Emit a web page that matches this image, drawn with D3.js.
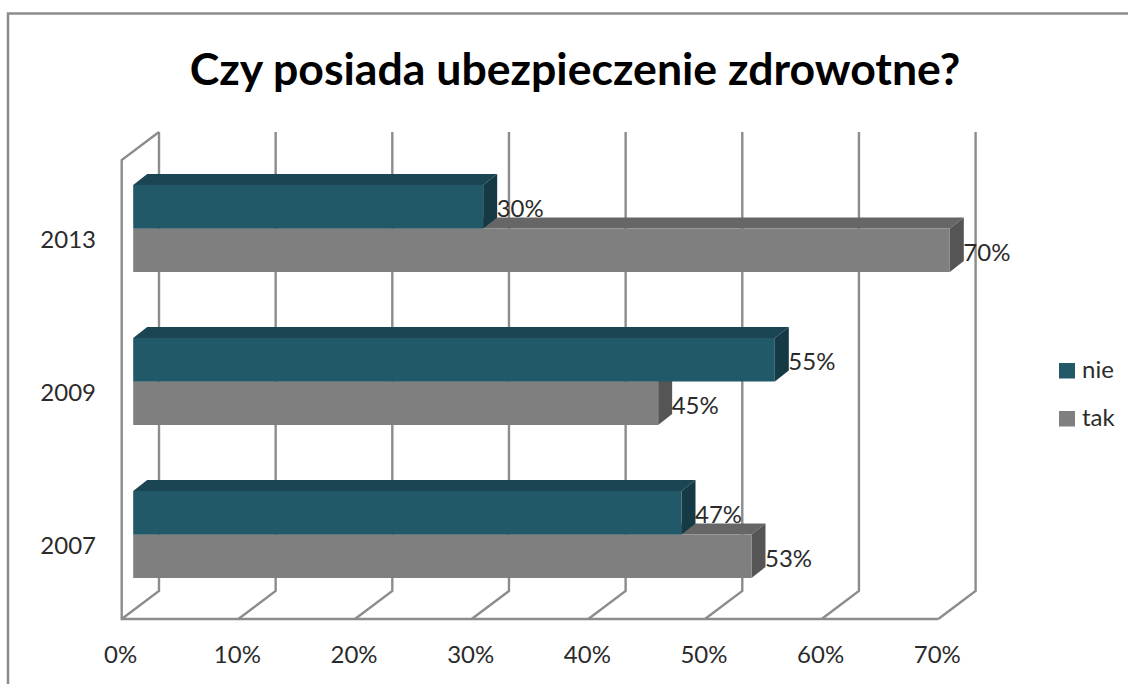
<!DOCTYPE html>
<html>
<head>
<meta charset="utf-8">
<title>Czy posiada ubezpieczenie zdrowotne?</title>
<script src="https://cdn.jsdelivr.net/npm/d3@7"></script>
<style>
  html, body { margin: 0; padding: 0; background: #fff; }
  svg { display: block; }
  text { font-family: Lato, "Noto Sans", sans-serif; fill: #2b2b2b; }
</style>
</head>
<body>
<svg id="chart" width="1128" height="684"></svg>
<script>
const titleText = 'Czy posiada ubezpieczenie zdrowotne?';
const years = ['2013', '2009', '2007'];
const nieValues = [30, 55, 47];
const takValues = [70, 45, 53];
const xTicks = [0, 10, 20, 30, 40, 50, 60, 70];

const gridColor = '#8c8c8c';
const labelSize = 24;

const svg = d3.select('#chart');

// Scales: x is the front plane of the 3D box
const x = d3.scaleLinear().domain([0, 70]).range([121.7, 938.3]);
const y = d3.scaleBand().domain(years).range([160, 619]);

// 3D offsets
const wallDx = 37.3;
const wallDy = 28;
const barInset = 11.5;
const barTop = 25;
const barH = 43.5;
const depthDx = 14;
const depthDy = 11;

// Outer frame, only top and left are visible
svg.append('path')
  .attr('d', 'M8,684V13.5H1128')
  .attr('fill', 'none')
  .attr('stroke', gridColor)
  .attr('stroke-width', 2.5);

svg.append('text')
  .attr('x', 575)
  .attr('y', 85)
  .attr('text-anchor', 'middle')
  .attr('font-size', 44.6)
  .attr('font-weight', 700)
  .style('fill', '#000')
  .text(titleText);

// Back wall and floor lines
const grid = svg.append('g')
  .attr('fill', 'none')
  .attr('stroke', gridColor)
  .attr('stroke-width', 2.4);

grid.selectAll('path.tick-line')
  .data(xTicks)
  .enter()
  .append('path')
  .attr('class', 'tick-line')
  .attr('d', function (d) {
    const px = x(d);
    const bottom = y.range()[1];
    const top = y.range()[0];
    return 'M' + px + ',' + bottom +
      'L' + (px + wallDx) + ',' + (bottom - wallDy) +
      'V' + (top - wallDy);
  });

// Left wall and front floor edge
grid.append('path')
  .attr('d', 'M' + (x(0) + wallDx) + ',' + (y.range()[0] - wallDy) +
    'L' + x(0) + ',' + y.range()[0] +
    'V' + y.range()[1] +
    'H' + x(70));

// Draws one 3D bar: top face, side face, front face
function drawBars(values, rowOffset, colors) {
  const g = svg.append('g');
  years.forEach(function (year, i) {
    const x0 = x(0) + barInset;
    const x1 = x(values[i]) + barInset;
    const y0 = y(year) + barTop + rowOffset;

    g.append('path')
      .attr('d', 'M' + x0 + ',' + y0 + 'L' + (x0 + depthDx) + ',' + (y0 - depthDy) +
        'H' + (x1 + depthDx) + 'L' + x1 + ',' + y0 + 'Z')
      .attr('fill', colors.top);
    g.append('path')
      .attr('d', 'M' + x1 + ',' + y0 + 'L' + (x1 + depthDx) + ',' + (y0 - depthDy) +
        'V' + (y0 + barH - depthDy) + 'L' + x1 + ',' + (y0 + barH) + 'Z')
      .attr('fill', colors.side);
    g.append('rect')
      .attr('x', x0)
      .attr('y', y0)
      .attr('width', x1 - x0)
      .attr('height', barH)
      .attr('fill', colors.front);
  });
}

drawBars(takValues, barH, { front: '#7f7f7f', top: '#666666', side: '#555555' });
drawBars(nieValues, 0, { front: '#215968', top: '#1b4552', side: '#163a45' });

// Value labels
function drawLabels(values, rowOffset) {
  svg.append('g').selectAll('text')
    .data(values)
    .enter()
    .append('text')
    .attr('x', function (d) { return x(d) + barInset + depthDx - 0.5; })
    .attr('y', function (d, i) { return y(years[i]) + barTop + rowOffset + 24; })
    .attr('dy', '0.35em')
    .attr('font-size', labelSize)
    .text(function (d) { return d + '%'; });
}

drawLabels(nieValues, 0);
drawLabels(takValues, barH);

// Axes, labels only
const xAxis = svg.append('g')
  .attr('transform', 'translate(-1.5,643)')
  .call(d3.axisBottom(x).tickValues(xTicks).tickSize(0).tickFormat(function (d) { return d + '%'; }));
const yAxis = svg.append('g')
  .attr('transform', 'translate(99,4)')
  .call(d3.axisLeft(y).tickSize(0));

[xAxis, yAxis].forEach(function (axis) {
  axis.select('.domain').remove();
  axis.selectAll('text')
    .attr('font-size', labelSize)
    .attr('font-family', null);
});
// d3 sets font-family on the axis group, drop it so the css font applies
xAxis.attr('font-family', null);
yAxis.attr('font-family', null);

// Legend
const legendNames = ['nie', 'tak'];
const legendColors = ['#215968', '#7f7f7f'];
const legend = svg.append('g').selectAll('g')
  .data(legendNames)
  .enter()
  .append('g')
  .attr('transform', function (d, i) { return 'translate(1059,' + (363 + i * 48) + ')'; });

legend.append('rect')
  .attr('width', 16)
  .attr('height', 15.5)
  .attr('fill', function (d, i) { return legendColors[i]; });

legend.append('text')
  .attr('x', 23)
  .attr('y', 7)
  .attr('dy', '0.35em')
  .attr('font-size', labelSize)
  .text(function (d) { return d; });
</script>
</body>
</html>
